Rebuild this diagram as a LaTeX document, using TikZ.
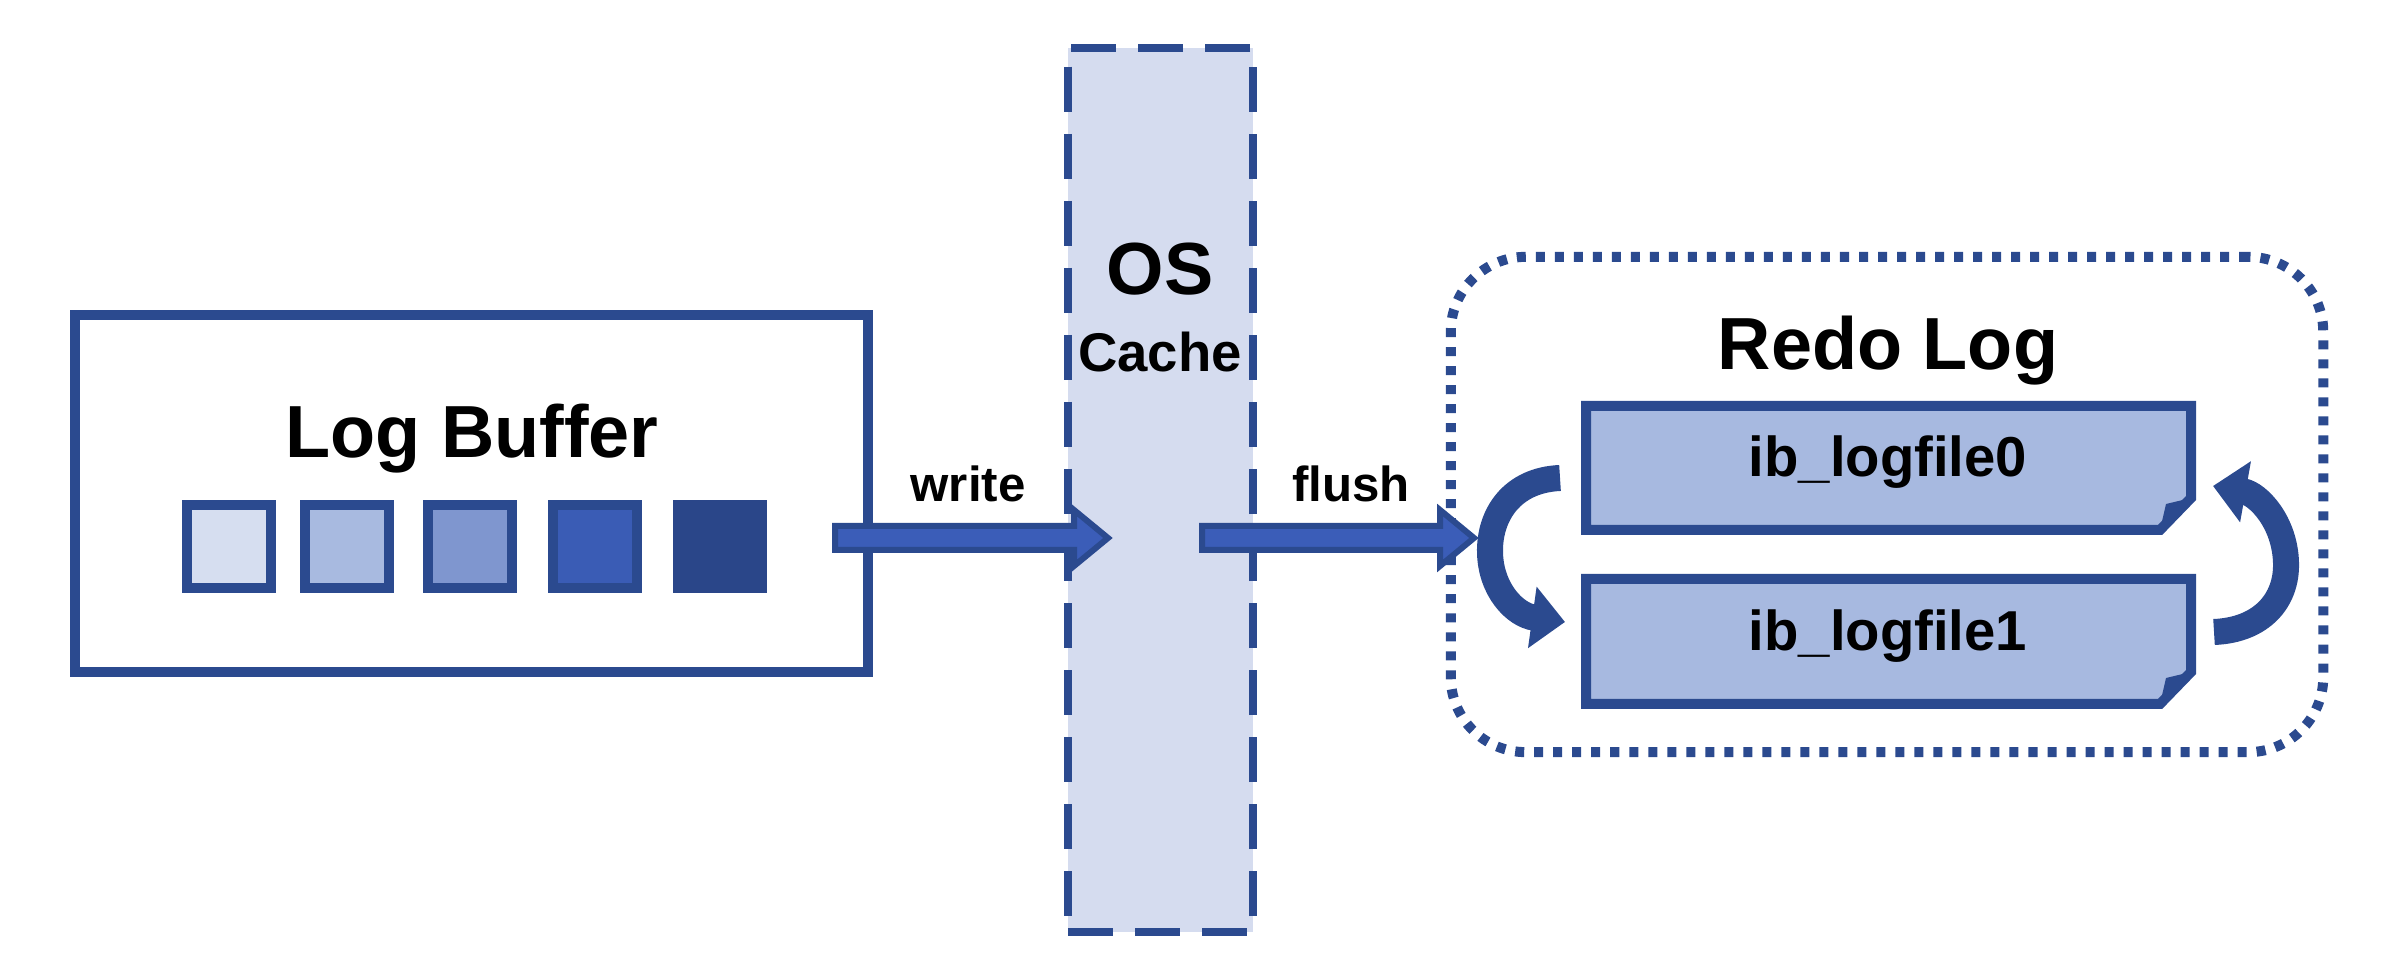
\documentclass[tikz,border=0pt]{standalone}
\usepackage{fontspec}
\setmainfont{Liberation Sans}
\usetikzlibrary{arrows.meta,calc}
\definecolor{dblue}{HTML}{2B4A8F}
\definecolor{sqA}{HTML}{D6DEF0}
\definecolor{sqB}{HTML}{A8BAE0}
\definecolor{sqC}{HTML}{7F96CF}
\definecolor{sqD}{HTML}{3A5CB5}
\definecolor{sqE}{HTML}{2A4689}
\definecolor{cachefill}{HTML}{D5DCEF}
\definecolor{filefill}{HTML}{A7B9E0}
\definecolor{arrowin}{HTML}{3B5DB8}
\begin{document}
\begin{tikzpicture}[x=0.01cm,y=-0.01cm,
  bigtxt/.style={font=\fontsize{21}{25}\selectfont\bfseries, anchor=base, inner sep=0pt},
  midtxt/.style={font=\fontsize{15.5}{19}\selectfont\bfseries, anchor=base, inner sep=0pt},
  lbltxt/.style={font=\fontsize{14}{17}\selectfont\bfseries, anchor=base, inner sep=0pt},
  boxline/.style={draw=dblue, line width=0.1cm},
  sqbox/.style={draw=dblue, line width=0.1cm, minimum width=0.83cm, minimum height=0.83cm, inner sep=0pt},
  fatarrow/.style={draw=dblue, fill=arrowin, line width=0.06cm, line join=miter},
  curvearrow/.style={draw=dblue, line width=0.26cm, -{Triangle[length=0.33cm,width=0.6cm]}}
]
\useasboundingbox (0,0) rectangle (2382,980);

% Log Buffer box
\node[boxline, minimum width=7.93cm, minimum height=3.57cm, inner sep=0pt] (lb) at (471.5,493.5) {};
\node[bigtxt] (lbt) at (472,458) {Log Buffer};
\node[sqbox, fill=sqA] (s1) at (229,546.5) {};
\node[sqbox, fill=sqB] (s2) at (347,546.5) {};
\node[sqbox, fill=sqC] (s3) at (470,546.5) {};
\node[sqbox, fill=sqD] (s4) at (595,546.5) {};
\node[sqbox, fill=sqE, draw=sqE] (s5) at (720,546.5) {};

% OS Cache column
\node[draw=dblue, fill=cachefill, line width=0.08cm, dash pattern=on 0.45cm off 0.22cm,
      minimum width=1.85cm, minimum height=8.84cm, inner sep=0pt] (os) at (1160.5,490) {};
\node[bigtxt] (ost) at (1160,295) {OS};
\node[midtxt] (osc) at (1160,372) {Cache};

% Redo Log container
\node[draw=dblue, line width=0.1cm, dash pattern=on 0.09cm off 0.1cm, rounded corners=0.75cm,
      minimum width=8.72cm, minimum height=4.95cm, inner sep=0pt] (redo) at (1887,504.5) {};
\node[bigtxt] (redot) at (1888,370) {Redo Log};

% log files
\filldraw[boxline, fill=filefill, line join=miter] (1586,406) -- (2191,406) -- (2191,498) -- (2160,530) -- (1586,530) -- cycle;
\fill[dblue] (2191,498) -- (2160,530) -- (2166,504) -- cycle;
\node[midtxt, font=\fontsize{16}{19}\selectfont\bfseries] (f0) at (1888,477) {ib\_logfile0};
\filldraw[boxline, fill=filefill, line join=miter] (1586,579) -- (2191,579) -- (2191,672) -- (2160,704) -- (1586,704) -- cycle;
\fill[dblue] (2191,672) -- (2160,704) -- (2166,678) -- cycle;
\node[midtxt, font=\fontsize{16}{19}\selectfont\bfseries] (f1) at (1888,651) {ib\_logfile1};

% write arrow
\coordinate (wS) at (835,538);
\coordinate (wT) at (1108,538);
\filldraw[fatarrow] ($(wS)+(0,-12)$) -- ($(wT)+(-34,-12)$) -- ($(wT)+(-34,-28)$) -- (wT)
  -- ($(wT)+(-34,28)$) -- ($(wT)+(-34,12)$) -- ($(wS)+(0,12)$) -- cycle;
\node[lbltxt] (wl) at (968,502) {write};

% flush arrow
\coordinate (fS) at (1202,538);
\coordinate (fT) at (1474,538);
\filldraw[fatarrow] ($(fS)+(0,-12)$) -- ($(fT)+(-34,-12)$) -- ($(fT)+(-34,-28)$) -- (fT)
  -- ($(fT)+(-34,28)$) -- ($(fT)+(-34,12)$) -- ($(fS)+(0,12)$) -- cycle;
\node[lbltxt] (fl) at (1351,502) {flush};

% circular arrows
\coordinate (c0s) at (1560,478);
\coordinate (c0m) at (1490,553);
\coordinate (c0e) at (1565,622);
\draw[curvearrow] (c0s) .. controls (1512,480) and (1489,515) .. (c0m)
  .. controls (1491,590) and (1515,615) .. (c0e);
\coordinate (c1s) at (2214,632);
\coordinate (c1m) at (2286,563);
\coordinate (c1e) at (2213,486);
\draw[curvearrow] (c1s) .. controls (2262,630) and (2287,600) .. (c1m)
  .. controls (2285,522) and (2258,494) .. (c1e);
\end{tikzpicture}
\end{document}
